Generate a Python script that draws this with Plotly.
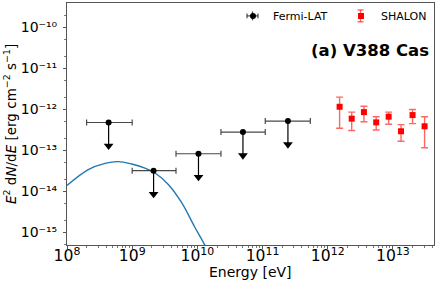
import plotly.graph_objects as go

# ---------------- data ----------------
fermi_E = [4.35e8, 2.13e9, 1.04e10, 5.0e10, 2.45e11]
fermi_E_lo = [2.0e8, 1.0e9, 4.7e9, 2.3e10, 1.1e11]
fermi_E_hi = [1.0e9, 4.7e9, 2.3e10, 1.1e11, 5.4e11]
fermi_ul = [4.8e-13, 3.2e-14, 8.3e-14, 2.8e-13, 5.2e-13]

shalon_E = [1.52e12, 2.33e12, 3.59e12, 5.54e12, 8.6e12, 1.33e13, 2.0e13, 3.06e13]
shalon_flux = [1.16e-12, 5.96e-13, 8.6e-13, 4.84e-13, 6.65e-13, 2.93e-13, 7.28e-13, 3.88e-13]
shalon_lo = [3.47e-13, 3.05e-13, 5.0e-13, 3.16e-13, 4.34e-13, 1.68e-13, 4.5e-13, 1.16e-13]
shalon_hi = [2.0e-12, 8.6e-13, 1.2e-12, 6.65e-13, 8.6e-13, 4.26e-13, 1.0e-12, 6.65e-13]

model_E = [1.0e8, 2.12e8, 3.83e8, 6.12e8, 9.82e8, 1.57e9, 2.24e9, 3.58e9, 5.74e9, 9.18e9, 1.31e10, 1.6e10]
model_flux = [1.40e-14, 3.41e-14, 4.84e-14, 5.32e-14, 4.66e-14, 3.72e-14, 2.82e-14, 1.48e-14, 5.3e-15, 1.32e-15, 4.8e-16, 2.2e-16]

y_tick_vals = [1e-15, 1e-14, 1e-13, 1e-12, 1e-11, 1e-10]
y_tick_text = ["10\u207b\u00b9\u2075", "10\u207b\u00b9\u2074", "10\u207b\u00b9\u00b3",
               "10\u207b\u00b9\u00b2", "10\u207b\u00b9\u00b9", "10\u207b\u00b9\u2070"]

x_range_log = [8.0, 13.63]
y_range_log = [-15.307, -9.404]

# ---------------- style ----------------
FONT = "DejaVu Sans"
ARROW = 0.27  # upper-limit arrow drawn down to this fraction of the value
W, H = 436, 282
ML, MR, MT, MB = 67, 2, 1, 37
PW, PH = W - ML - MR, H - MT - MB


def px(x):  # pixel x -> paper x
    return (x - ML) / PW


def py(y):  # pixel y (from top) -> paper y
    return (H - MB - y) / PH


fig = go.Figure()

# model curve
fig.add_trace(go.Scatter(
    x=model_E, y=model_flux, mode="lines", line=dict(color="#1f77b4", width=1.4, shape="spline"),
    showlegend=False, hoverinfo="skip"))

# Fermi-LAT upper-limit arrows (stems)
stem_x, stem_y = [], []
for e, f in zip(fermi_E, fermi_ul):
    stem_x += [e, e, None]
    stem_y += [f, f * ARROW, None]
fig.add_trace(go.Scatter(x=stem_x, y=stem_y, mode="lines", line=dict(color="black", width=1.2),
                         showlegend=False, hoverinfo="skip"))
fig.add_trace(go.Scatter(x=fermi_E, y=[f * ARROW for f in fermi_ul], mode="markers",
                         marker=dict(symbol="triangle-down", size=8.5, color="black"),
                         showlegend=False, hoverinfo="skip"))

# Fermi-LAT points with energy bins
fig.add_trace(go.Scatter(
    x=fermi_E, y=fermi_ul, mode="markers", name="Fermi-LAT", legend="legend",
    marker=dict(symbol="circle", size=6, color="black"),
    error_x=dict(type="data", symmetric=False,
                 array=[h - e for h, e in zip(fermi_E_hi, fermi_E)],
                 arrayminus=[e - l for e, l in zip(fermi_E, fermi_E_lo)],
                 color="rgba(40,40,40,0.85)", thickness=1.2, width=3)))

# SHALON points
fig.add_trace(go.Scatter(
    x=shalon_E, y=shalon_flux, mode="markers", name="SHALON", legend="legend2",
    marker=dict(symbol="square", size=6, color="#ff0000"),
    error_y=dict(type="data", symmetric=False,
                 array=[h - f for h, f in zip(shalon_hi, shalon_flux)],
                 arrayminus=[f - l for f, l in zip(shalon_flux, shalon_lo)],
                 color="rgba(255,0,0,0.6)", thickness=1.4, width=3.5)))

axis_common = dict(
    type="log", showgrid=False, zeroline=False,
    showline=True, linecolor="#555", linewidth=1, mirror=True,
    ticks="outside", ticklen=3, tickcolor="#555", tickwidth=1,
    minor=dict(ticks="outside", ticklen=2, tickcolor="#777", tickwidth=0.8, showgrid=False),
)

legend_common = dict(orientation="v", xanchor="left", yanchor="middle",
                     font=dict(family=FONT, size=11), bgcolor="rgba(0,0,0,0)",
                     itemwidth=30, borderwidth=0)

# small error-bar glyphs drawn onto the legend symbols
shapes = [
    dict(type="line", xref="paper", yref="paper", x0=px(247), x1=px(258), y0=py(14), y1=py(14),
         line=dict(color="rgba(40,40,40,0.85)", width=1.2)),
    dict(type="line", xref="paper", yref="paper", x0=px(247), x1=px(247), y0=py(11.5), y1=py(16.5),
         line=dict(color="rgba(40,40,40,0.85)", width=1.2)),
    dict(type="line", xref="paper", yref="paper", x0=px(258), x1=px(258), y0=py(11.5), y1=py(16.5),
         line=dict(color="rgba(40,40,40,0.85)", width=1.2)),
    dict(type="line", xref="paper", yref="paper", x0=px(252.5), x1=px(252.5), y0=py(9.5), y1=py(18.5),
         line=dict(color="rgba(40,40,40,0.85)", width=1.2)),
    dict(type="line", xref="paper", yref="paper", x0=px(360.5), x1=px(360.5), y0=py(8), y1=py(20),
         line=dict(color="rgba(255,0,0,0.6)", width=1.4)),
    dict(type="line", xref="paper", yref="paper", x0=px(357.5), x1=px(363.5), y0=py(8), y1=py(8),
         line=dict(color="rgba(255,0,0,0.6)", width=1.4)),
    dict(type="line", xref="paper", yref="paper", x0=px(357.5), x1=px(363.5), y0=py(20), y1=py(20),
         line=dict(color="rgba(255,0,0,0.6)", width=1.4)),
]

fig.update_layout(
    width=W, height=H,
    margin=dict(l=ML, r=MR, t=MT, b=MB),
    paper_bgcolor="white", plot_bgcolor="white",
    font=dict(family=FONT, size=12, color="black"),
    xaxis=dict(range=x_range_log, dtick=1, exponentformat="power", ticklabelstandoff=-6,
               tickfont=dict(family=FONT, size=12.5, color="black"), **axis_common),
    yaxis=dict(range=y_range_log, tickmode="array", tickvals=y_tick_vals, ticktext=y_tick_text,
               ticklabelstandoff=3, tickfont=dict(family=FONT, size=14, color="black"), **axis_common),
    legend=dict(x=px(233), y=py(14), **legend_common),
    legend2=dict(x=px(341), y=py(14), **legend_common),
    shapes=shapes,
    annotations=[
        dict(text="<b>(a) V388 Cas</b>", xref="paper", yref="paper", x=px(431), y=py(48.7),
             xanchor="right", yanchor="middle", showarrow=False,
             font=dict(family=FONT, size=16.5, color="black")),
        dict(text="<i>E</i><sup>2</sup> d<i>N</i>/d<i>E</i> [erg cm<sup>\u22122</sup> s<sup>\u22121</sup>]",
             xref="paper", yref="paper", x=px(10), y=0.5, textangle=-90,
             xanchor="center", yanchor="middle", showarrow=False,
             font=dict(family=FONT, size=13.5, color="black")),
        dict(text="Energy [eV]", xref="paper", yref="paper", x=0.5, y=py(272),
             xanchor="center", yanchor="middle", showarrow=False,
             font=dict(family=FONT, size=14, color="black")),
    ],
)

fig.write_html("out.html", config={"displayModeBar": False},
               post_script="document.body.style.margin='0px';document.body.style.padding='0px';")
